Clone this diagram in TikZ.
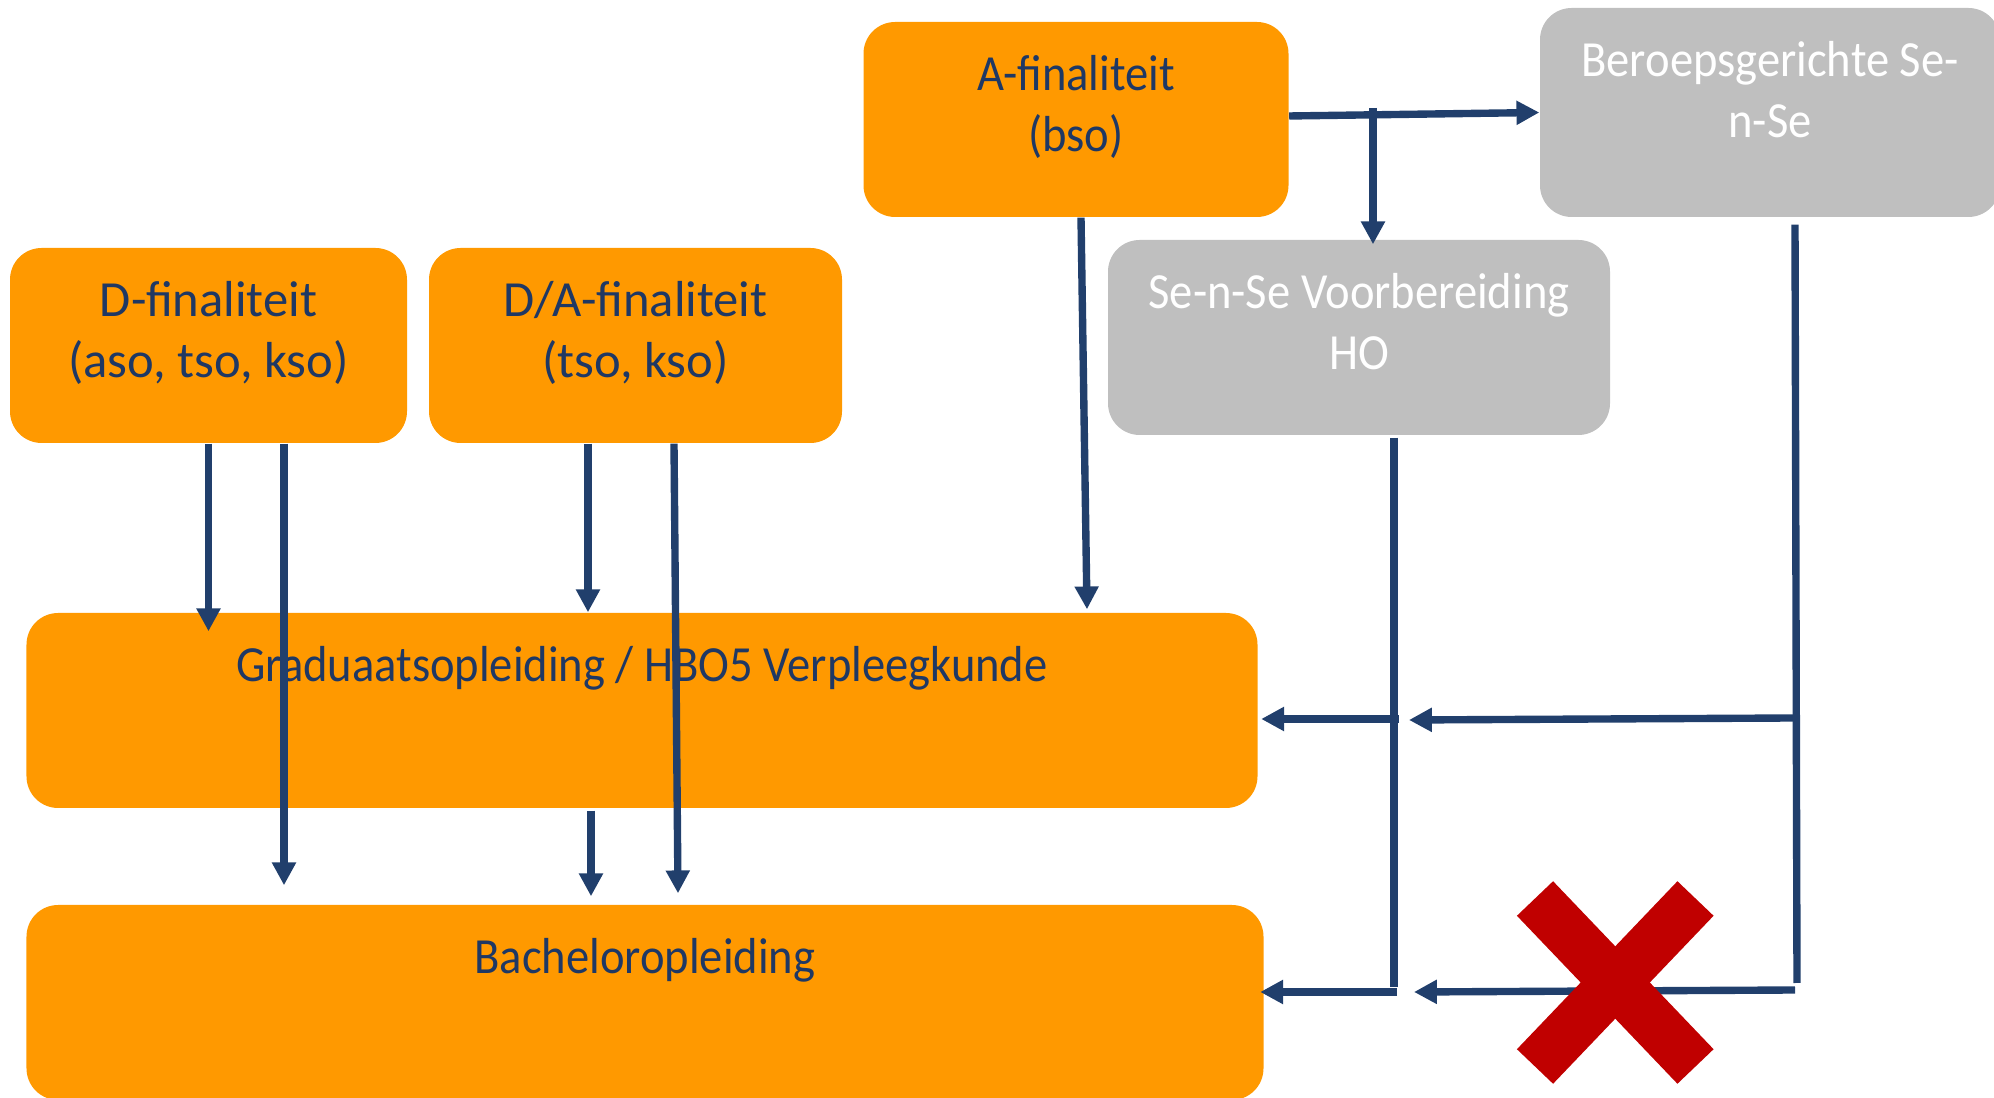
\documentclass[tikz,border=0pt]{standalone}
\usepackage{fontspec}
\setmainfont{Carlito}
\newfontfamily\narrowfont[FakeStretch=0.92]{Carlito}
\usetikzlibrary{arrows.meta, positioning, calc}
\definecolor{route-ink}{HTML}{1F3864}
\definecolor{route-line}{HTML}{213F6C}
\definecolor{school-orange}{HTML}{FF9900}
\definecolor{prep-grey}{HTML}{BFBFBF}
\definecolor{block-red}{HTML}{C00000}
\newcommand{\boxfont}{\fontsize{14.4}{17.4}\selectfont}

\begin{document}
\begin{tikzpicture}[
    >={Triangle[length=6.5pt, width=6.5pt]},
    box/.style={
        rectangle, rounded corners=9pt,
        inner sep=0pt, minimum height=1.95cm,
    },
    school/.style={box, fill=school-orange},
    prep/.style={box, fill=prep-grey},
    boxlabel/.style={
        anchor=north, inner sep=0pt, align=center,
        font=\boxfont, yshift=-0.33cm,
    },
    inklabel/.style={boxlabel, text=route-ink},
    lightlabel/.style={boxlabel, text=route-ink, font=\boxfont\narrowfont},
    whitelabel/.style={boxlabel, text=white, font=\boxfont\narrowfont},
    flow/.style={->, line width=2.1pt, route-line},
    link/.style={line width=2.1pt, route-line},
    cross/.style={line width=0.5cm, block-red},
]
\useasboundingbox (0, 0) rectangle (19.94, -10.98);

% =====================================================================
% SECONDARY SCHOOL — the three finaliteiten
% =====================================================================

\node[school, minimum width=3.97cm,
      label={[inklabel]north:D-finaliteit\\(aso, tso, kso)}] (dfin)  at (2.085, -3.455) {};
\node[school, minimum width=4.13cm,
      label={[inklabel]north:D/A-finaliteit\\(tso, kso)}]    (dafin) at (6.355, -3.455) {};
\node[school, minimum width=4.25cm,
      label={[lightlabel]north:A-finaliteit\\(bso)}]         (afin)  at (10.76, -1.195) {};

% =====================================================================
% Se-n-Se — grey intermediate years
% =====================================================================

\node[prep, minimum width=4.60cm, minimum height=2.09cm,
      label={[whitelabel]north:Beroepsgerichte Se-\\n-Se}]   (beroeps) at (17.70, -1.125) {};
\node[prep, minimum width=5.02cm,
      label={[whitelabel]north:Se-n-Se Voorbereiding\\HO}]   (senvb)   at (13.59, -3.375) {};

% =====================================================================
% HIGHER EDUCATION
% =====================================================================

\node[school, minimum width=12.31cm,
      label={[lightlabel]north:Graduaatsopleiding / HBO5 Verpleegkunde}] (grad) at (6.42, -7.105) {};
\node[school, minimum width=12.37cm,
      label={[lightlabel]north:Bacheloropleiding}]                       (bach) at (6.45, -10.025) {};

% =====================================================================
% ROUTES FROM SECONDARY SCHOOL
% =====================================================================

\draw[flow] (dfin.south) -- ([yshift=-0.19cm] dfin.south |- grad.north);
\draw[flow] ([xshift=0.755cm] dfin.south)
    -- ([xshift=0.755cm, yshift=0.19cm] dfin.south |- bach.north);

\draw[flow] ([xshift=-0.475cm] dafin.south) -- ([xshift=-0.475cm] dafin.south |- grad.north);
\draw[flow] ([xshift=0.385cm] dafin.south)
    -- ([xshift=0.425cm, yshift=0.11cm] dafin.south |- bach.north);

\draw[flow] ([xshift=0.05cm] afin.south)
    -- ([xshift=0.11cm, yshift=0.03cm] afin.south |- grad.north);

\draw[flow] ([xshift=-0.51cm, yshift=-0.02cm] grad.south)
    -- ([xshift=-0.51cm, yshift=0.08cm] grad.south |- bach.north);

% A-finaliteit splits towards both Se-n-Se years
\coordinate (afin-split) at (13.73, -1.08);
\draw[flow] ([yshift=0.035cm] afin.east) -- (beroeps.west);
\draw[flow] (afin-split) -- ([yshift=-0.05cm] afin-split |- senvb.north);

% =====================================================================
% ROUTES FROM Se-n-Se
% =====================================================================

\coordinate (senvb-end)  at (13.94, -9.87);
\coordinate (senvb-tap)  at (13.99, -7.19);
\coordinate (senvb-foot) at (13.97, -9.92);

\draw[link] ([xshift=0.35cm, yshift=-0.02cm] senvb.south) -- (senvb-end);
\draw[flow] (senvb-tap)  -- ([xshift=0.03cm] senvb-tap -| grad.east);
\draw[flow] (senvb-foot) -- ([xshift=-0.04cm] senvb-foot -| bach.east);

\coordinate (beroeps-end)  at (17.97, -9.83);
\coordinate (beroeps-tap)  at (17.93, -7.18);
\coordinate (beroeps-foot) at (17.95, -9.90);
\coordinate (gap-upper)    at (14.09, -7.20);
\coordinate (gap-lower)    at (14.14, -9.92);

\draw[link] ([xshift=0.25cm, yshift=-0.07cm] beroeps.south) -- (beroeps-end);
\draw[flow] (beroeps-tap)  -- (gap-upper);
\draw[flow] (beroeps-foot) -- (gap-lower);

% red cross: no bachelor straight after Beroepsgerichte Se-n-Se
\coordinate (x-nw) at (15.35, -8.985);
\coordinate (x-se) at (16.955, -10.665);
\coordinate (x-ne) at (16.955, -8.985);
\coordinate (x-sw) at (15.35, -10.665);
\draw[cross] (x-nw) -- (x-se);
\draw[cross] (x-ne) -- (x-sw);

\end{tikzpicture}
\end{document}
